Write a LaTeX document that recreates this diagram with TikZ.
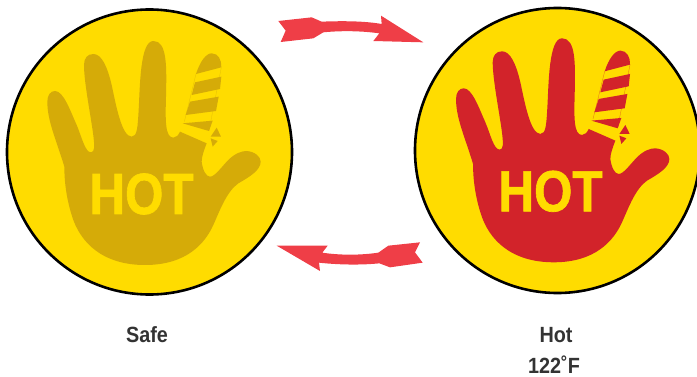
\documentclass[tikz,border=0pt]{standalone}
\usepackage{fontspec}
\setmainfont{Liberation Sans}
\newfontfamily\hotfont[FakeBold=1.2]{Liberation Sans Bold}
\definecolor{sun}{HTML}{FFDC00}
\definecolor{dim}{HTML}{D5AB08}
\definecolor{hotred}{HTML}{D2232A}
\definecolor{arrowred}{HTML}{EF3E47}
\definecolor{ink}{HTML}{333333}
\tikzset{
  disc/.style={fill=sun,draw=black,line width=2.6pt},
  hotword/.style={text=sun,font=\hotfont\fontsize{58}{58}\selectfont,xscale=.85,inner sep=0},
  caption/.style={text=ink,font=\bfseries\fontsize{22}{22}\selectfont,xscale=.9,inner sep=0,anchor=base},
  swoosh/.style={fill=arrowred,draw=none}
}
\newcommand{\handglyph}[1]{%
  \begin{scope}[x=.33333pt,y=-.33333pt]
  \draw[#1,line width=.3pt,opacity=.6] (498,132) -- (463,275);
  \draw[#1,line width=.3pt,opacity=.6] (574,112) -- (537,301);
  \fill[#1] (100,400) .. controls (75,320) and (52,270) .. (52,215)
    .. controls (52,195) and (62,183) .. (75,183)
    .. controls (100,183) and (120,240) .. (140,285)
    .. controls (155,320) and (165,367) .. (183,367)
    .. controls (195,367) and (193,345) .. (191,325)
    .. controls (185,270) and (162,160) .. (162,105)
    .. controls (162,85) and (172,72) .. (190,72)
    .. controls (215,72) and (232,110) .. (245,165)
    .. controls (258,225) and (275,320) .. (305,320)
    .. controls (322,320) and (323,290) .. (326,240)
    .. controls (330,170) and (330,33) .. (370,33)
    .. controls (412,33) and (410,110) .. (408,200)
    .. controls (406,270) and (405,323) .. (430,323)
    .. controls (440,323) and (445,315) .. (450,305)
    -- (530,340)
    .. controls (522,360) and (515,380) .. (515,395)
    .. controls (518,420) and (528,440) .. (540,440)
    .. controls (555,440) and (575,410) .. (595,390)
    .. controls (615,370) and (635,363) .. (650,363)
    .. controls (675,365) and (692,380) .. (692,395)
    .. controls (692,420) and (660,440) .. (625,460)
    .. controls (590,485) and (570,540) .. (550,585)
    .. controls (525,640) and (470,705) .. (345,705)
    .. controls (220,705) and (150,640) .. (125,555)
    .. controls (108,500) and (103,450) .. (103,410)
    -- cycle;
  \fill[#1] (498,132) .. controls (510,95) and (528,70) .. (545,70)
    .. controls (565,70) and (575,90) .. (574,112) -- cycle;
  \fill[#1] (495,157) -- (574,140) -- (570,177) -- (485,195) -- cycle;
  \fill[#1] (480,215) -- (566,200) -- (558,243) -- (467,255) -- cycle;
  \fill[#1] (458,280) -- (548,272) -- (537,303) -- cycle;
  \fill[#1] (560,293) -- (573,320) -- (542,320) -- cycle;
  \fill[#1] (542,325) -- (563,333) -- (548,350) -- cycle;
  \end{scope}}
\begin{document}
\begin{tikzpicture}[x=1pt,y=-1pt]
\useasboundingbox (0,0) rectangle (697,377);
\begin{scope}
\clip (0,0) rectangle (697,377);
\draw[disc] (149.5,152) circle (142.5);
\draw[disc] (557.5,150.5) circle (142.5);
\end{scope}
\begin{scope}[shift={(30,30)}]\handglyph{dim}\end{scope}
\begin{scope}[shift={(438.7,27.3)}]\handglyph{hotred}\end{scope}
\node[hotword] (hotleft) at (141.5,194) {HOT};
\node[hotword] (hotright) at (550.5,191.3) {HOT};
\begin{scope}[shift={(260,0)},x=.33333pt,y=-.33333pt]
\fill[swoosh] (55,63) -- (155,52) -- (185,65) .. controls (260,62) and (320,64) .. (365,72)
  -- (363,47) -- (490,127) -- (340,123) -- (358,100)
  .. controls (300,92) and (240,92) .. (190,97) -- (160,115) -- (62,126) -- (77,92) -- cycle;
\end{scope}
\begin{scope}[shift={(260,230)},x=.33333pt,y=-.33333pt]
\fill[swoosh] (50,47) -- (203,47) -- (187,68) .. controls (240,76) and (300,76) .. (355,68)
  -- (385,47) -- (480,37) -- (465,67) -- (488,98) -- (390,112) -- (358,100)
  .. controls (300,106) and (230,104) .. (177,98) -- (180,123) -- cycle;
\end{scope}
\node[caption] (safe) at (147,342) {Safe};
\node[caption] (hot) at (556,342) {Hot};
\node[caption] (temp) at (554,373) {122˚F};
\end{tikzpicture}
\end{document}
